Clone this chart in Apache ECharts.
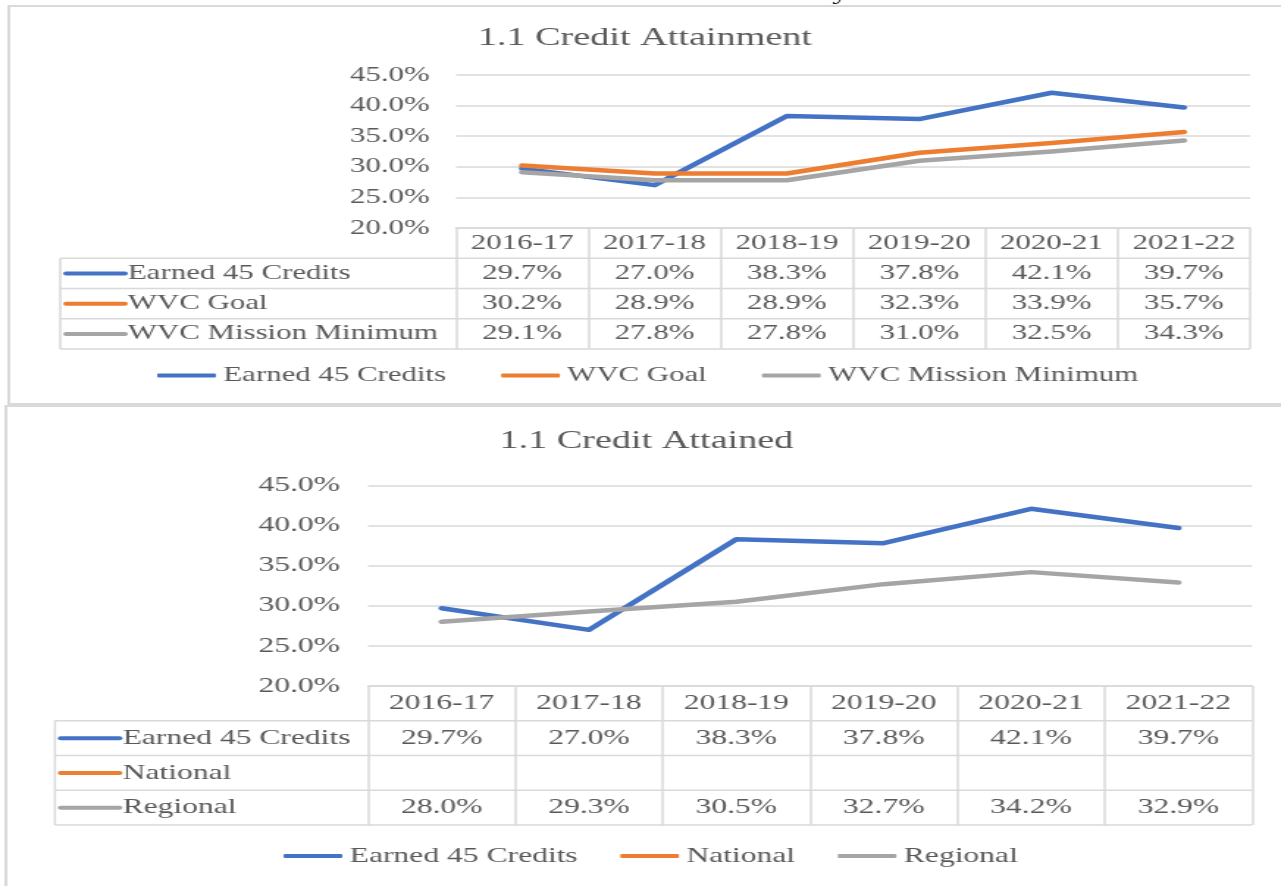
<!DOCTYPE html>
<html>
<head>
<meta charset="utf-8">
<script src="https://cdn.jsdelivr.net/npm/echarts@6/dist/echarts.min.js"></script>
<style>
  html, body { margin: 0; padding: 0; background: #fff; overflow: hidden; }
  /* the reference picture is stretched sideways, so draw narrow and widen it */
  #main { width: 872px; height: 886px; transform: scaleX(1.469); transform-origin: 0 0; }
</style>
</head>
<body>
<div id="main"></div>
<script>
// data
var years = ['2016-17', '2017-18', '2018-19', '2019-20', '2020-21', '2021-22'];
var earned = [29.7, 27.0, 38.3, 37.8, 42.1, 39.7];
var wvcGoal = [30.2, 28.9, 28.9, 32.3, 33.9, 35.7];
var wvcMin = [29.1, 27.8, 27.8, 31.0, 32.5, 34.3];
var national = [null, null, null, null, null, null];
var regional = [28.0, 29.3, 30.5, 32.7, 34.2, 32.9];

var yMin = 20, yMax = 45, yStep = 5;

var colors = ['#4472C4', '#ED7D31', '#A5A5A5'];
var W = 872;
var textColor = '#595959';
var lineColor = '#d9d9d9';
var font = '"Times New Roman", "Liberation Serif", serif';

var panels = [
  {
    title: '1.1 Credit Attainment', titleX: 439, titleY: 38,
    names: ['Earned 45 Credits', 'WVC Goal', 'WVC Mission Minimum'],
    values: [earned, wvcGoal, wvcMin],
    left: 310.4, right: 21, top: 75, height: 153,
    tableLeft: 41, rowH: 30.25, fontSize: 21,
    legendLeft: 107, legendTop: 365, legendGap: 37.5, labelMargin: 18
  },
  {
    title: '1.1 Credit Attained', titleX: 440, titleY: 441,
    names: ['Earned 45 Credits', 'National', 'Regional'],
    values: [earned, national, regional],
    left: 250.5, right: 19.7, top: 485.5, height: 200.5,
    tableLeft: 37.4, rowH: 34.75, fontSize: 21.5,
    legendLeft: 193, legendTop: 845, legendGap: 29, labelMargin: 19
  }
];

var myChart = echarts.init(document.getElementById('main'));

var option = {
  animation: false,
  grid: [], xAxis: [], yAxis: [], series: [], legend: [], graphic: []
};

// outer boxes of the two pasted charts
option.graphic.push({ type: 'rect', shape: { x: 6, y: 6, width: W + 20, height: 398 },
  style: { fill: 'none', stroke: lineColor, lineWidth: 2 } });
option.graphic.push({ type: 'rect', shape: { x: 4, y: 406, width: W + 20, height: 500 },
  style: { fill: 'none', stroke: lineColor, lineWidth: 2 } });
// descender of a heading cut off above the picture
option.graphic.push({ type: 'text', x: 572, y: -7,
  style: { text: 'y', fill: '#000', font: '22px ' + font, textAlign: 'center', textVerticalAlign: 'middle' } });

panels.forEach(function (p, k) {
  var bottom = p.top + p.height;
  var right = W - p.right;

  option.grid.push({ left: p.left, right: p.right, top: p.top, height: p.height });

  option.xAxis.push({
    gridIndex: k, type: 'category', data: years, boundaryGap: true,
    axisLine: { lineStyle: { color: lineColor, width: 1.5 } },
    axisTick: { show: true, interval: 0, length: p.rowH * 4, lineStyle: { color: lineColor, width: 1.5 } },
    axisLabel: {
      interval: 0, margin: 0, color: textColor, fontFamily: font,
      fontSize: p.fontSize, lineHeight: p.rowH,
      formatter: function (v, i) {
        var rows = [v];
        p.values.forEach(function (s) {
          rows.push(s[i] == null ? ' ' : s[i].toFixed(1) + '%');
        });
        return rows.join('\n');
      }
    }
  });

  option.yAxis.push({
    gridIndex: k, type: 'value', min: yMin, max: yMax, interval: yStep,
    axisLine: { show: false }, axisTick: { show: false },
    axisLabel: {
      margin: p.labelMargin, color: textColor, fontFamily: font, fontSize: p.fontSize,
      formatter: function (v) { return v.toFixed(1) + '%'; }
    },
    splitLine: { lineStyle: { color: lineColor, width: 1.5 } }
  });

  p.names.forEach(function (name, j) {
    option.series.push({
      type: 'line', name: name, xAxisIndex: k, yAxisIndex: k,
      data: p.values[j], symbol: 'none',
      lineStyle: { color: colors[j], width: 4.5, cap: 'round', join: 'round' },
      itemStyle: { color: colors[j] }
    });
  });

  option.legend.push({
    left: p.legendLeft, top: p.legendTop, padding: 0, data: p.names,
    icon: 'roundRect', itemWidth: 40, itemHeight: 4, itemGap: p.legendGap,
    textStyle: { color: textColor, fontFamily: font, fontSize: p.fontSize }
  });

  // title
  option.graphic.push({ type: 'text', x: p.titleX, y: p.titleY,
    style: { text: p.title, fill: textColor, font: '26px ' + font,
      textAlign: 'center', textVerticalAlign: 'middle' } });

  // data table: row lines, left border, series names with their line keys
  for (var r = 1; r <= 4; r++) {
    var y = bottom + p.rowH * r;
    option.graphic.push({ type: 'line', shape: { x1: p.tableLeft, y1: y, x2: right, y2: y },
      style: { stroke: lineColor, lineWidth: 1.5 } });
  }
  option.graphic.push({ type: 'line',
    shape: { x1: p.tableLeft, y1: bottom + p.rowH, x2: p.tableLeft, y2: bottom + p.rowH * 4 },
    style: { stroke: lineColor, lineWidth: 1.5 } });
  p.names.forEach(function (name, j) {
    var cy = bottom + p.rowH * (j + 1.5);
    option.graphic.push({ type: 'line',
      shape: { x1: p.tableLeft + 4, y1: cy, x2: p.tableLeft + 44, y2: cy },
      style: { stroke: colors[j], lineWidth: 4, lineCap: 'round' } });
    option.graphic.push({ type: 'text', x: p.tableLeft + 46, y: cy,
      style: { text: name, fill: textColor, font: p.fontSize + 'px ' + font,
        textAlign: 'left', textVerticalAlign: 'middle' } });
  });
});

myChart.setOption(option);
</script>
</body>
</html>
